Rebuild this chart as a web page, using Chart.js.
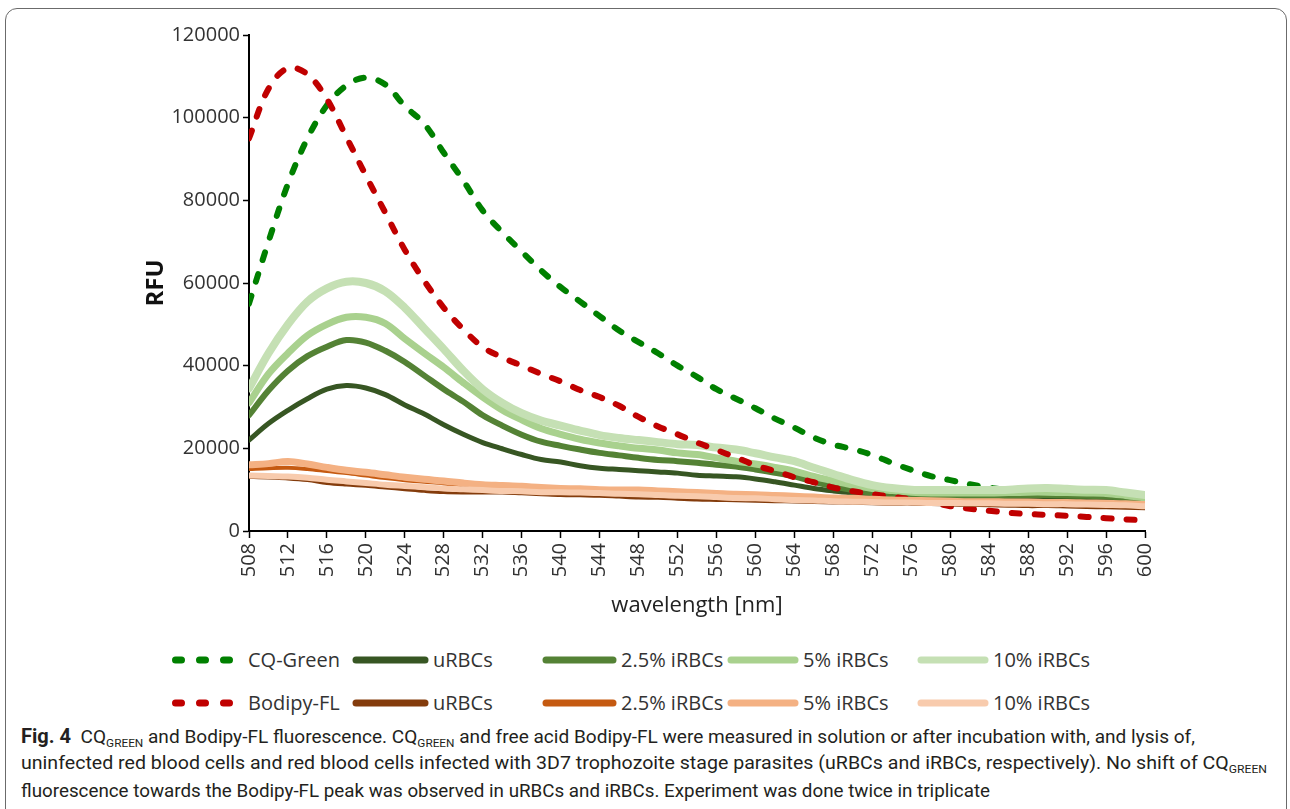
<!DOCTYPE html>
<html>
<head>
<meta charset="utf-8">
<script src="https://cdn.jsdelivr.net/npm/chart.js@4.4.1/dist/chart.umd.min.js"></script>
<style>
  html, body { margin: 0; padding: 0; background: #fff; }
  body { width: 1290px; height: 809px; position: relative; overflow: hidden; font-family: "Open Sans", sans-serif; }
  #frame { position: absolute; left: 5px; top: 8px; width: 1280px; height: 840px; border: 1px solid #6b6b6b; border-radius: 12px; }
  #chart { position: absolute; left: 0; top: 0; }
  .leg { position: absolute; height: 24px; line-height: 24px; font-size: 20px; color: #333; white-space: nowrap; }
  .leg svg { position: absolute; top: 0; }
  .cap { position: absolute; left: 21px; white-space: nowrap; font-family: "Liberation Sans Narrow", "Roboto", sans-serif; font-size: 19px; line-height: 24px; color: #231f20; transform-origin: 0 50%; }
  .cap b { font-size: 20px; }
  .cap sub { font-size: 0.62em; vertical-align: -0.35em; line-height: 0; }
</style>
</head>
<body>
<div id="frame"></div>
<canvas id="chart" width="1290" height="640"></canvas>
<div id="legend"></div>
<div class="cap" id="cap1" data-w="1174"><b>Fig. 4</b>&nbsp; CQ<sub>GREEN</sub> and Bodipy-FL fluorescence. CQ<sub>GREEN</sub> and free acid Bodipy-FL were measured in solution or after incubation with, and lysis of,</div>
<div class="cap" id="cap2" data-w="1246">uninfected red blood cells and red blood cells infected with 3D7 trophozoite stage parasites (uRBCs and iRBCs, respectively). No shift of CQ<sub>GREEN</sub></div>
<div class="cap" id="cap3" data-w="969">fluorescence towards the Bodipy-FL peak was observed in uRBCs and iRBCs. Experiment was done twice in triplicate</div>
<script>
// panjang gelombang (nm)
const wavelength = [508, 510, 512, 514, 516, 518, 520, 522, 524, 526, 528, 530, 532, 534, 536, 538,
    540, 542, 544, 546, 548, 550, 552, 554, 556, 558, 560, 562, 564, 566, 568, 570,
    572, 574, 576, 578, 580, 582, 584, 586, 588, 590, 592, 594, 596, 598, 600];

const cqGreen = [55000, 70000, 84000, 95000, 103000, 107800, 109700, 108000, 102800, 98500, 91500, 84800, 77500, 72300, 67600, 63000,
    59000, 55500, 52000, 48500, 45700, 43000, 40000, 37300, 34300, 32000, 29700, 27200, 25000, 22600, 20900, 19800,
    18400, 16500, 14800, 13300, 12300, 11300, 10500, 9900, 9500, 9100, 8800, 8500, 8200, 7800, 7400];
const greenU = [22000, 26000, 29200, 32000, 34300, 35200, 34600, 33000, 30500, 28300, 25700, 23400, 21400, 19900, 18500, 17300,
    16700, 15800, 15200, 14900, 14600, 14300, 14000, 13500, 13300, 13100, 12600, 11900, 11100, 10300, 9700, 9200,
    8700, 8200, 8000, 8000, 8000, 8100, 8200, 8200, 8300, 8200, 8100, 8000, 7800, 7400, 7000];
const green25 = [28000, 34000, 38800, 42300, 44600, 46200, 45600, 43600, 40900, 37600, 34300, 31300, 28000, 25500, 23300, 21600,
    20600, 19700, 18900, 18300, 17700, 17200, 16900, 16500, 16000, 15600, 14900, 14100, 13200, 11900, 10800, 9900,
    9200, 8700, 8400, 8200, 8200, 8300, 8400, 8600, 8700, 8700, 8600, 8500, 8400, 8000, 7600];
const green5 = [31000, 38000, 43000, 47300, 50000, 51700, 51700, 50200, 46500, 43000, 39600, 35900, 32400, 29300, 26900, 24800,
    23400, 22200, 21300, 20600, 20000, 19600, 18900, 18500, 17700, 16900, 16200, 15400, 14500, 13200, 12100, 11100,
    10300, 9800, 9400, 9200, 9200, 9200, 9200, 9300, 9400, 9400, 9300, 9200, 9100, 8600, 8000];
const green10 = [34500, 43000, 50000, 55500, 58700, 60300, 60000, 58000, 54000, 49000, 44000, 38800, 34300, 31000, 28500, 26700,
    25500, 24300, 23200, 22500, 22000, 21500, 21000, 20800, 20200, 19700, 18800, 17800, 16900, 15300, 13800, 12300,
    11100, 10400, 10000, 9900, 9900, 9900, 9900, 10000, 10300, 10400, 10200, 10000, 9900, 9300, 8700];

const bodipy = [95000, 107000, 112000, 110500, 104500, 95300, 86000, 77000, 68000, 60500, 54000, 48800, 44500, 42000, 40000, 38000,
    36200, 34100, 32400, 30300, 27600, 25300, 23400, 21400, 19600, 17800, 15900, 14500, 13000, 11800, 10500, 9600,
    8900, 8300, 7700, 6900, 6000, 5400, 4900, 4400, 4100, 3900, 3700, 3400, 3100, 2800, 2600];
const brownU = [13000, 12800, 12600, 12200, 11500, 11100, 10800, 10400, 10000, 9600, 9300, 9200, 9200, 9200, 9000, 8800,
    8600, 8500, 8400, 8200, 8000, 7900, 7700, 7500, 7400, 7300, 7200, 7100, 7000, 6900, 6800, 6700,
    6600, 6500, 6500, 6400, 6300, 6200, 6100, 6000, 5900, 5900, 5800, 5700, 5600, 5500, 5400];
const orange25 = [15000, 15200, 15300, 15000, 14500, 14000, 13400, 12800, 12300, 11900, 11500, 11000, 10600, 10300, 10100, 9800,
    9600, 9500, 9400, 9200, 9000, 8800, 8700, 8500, 8300, 8200, 8000, 7900, 7700, 7500, 7300, 7200,
    7100, 7000, 6900, 6900, 6800, 6800, 6700, 6600, 6600, 6500, 6500, 6400, 6300, 6200, 6000];
const orange5 = [16000, 16300, 16800, 16200, 15400, 14700, 14200, 13600, 13000, 12500, 12100, 11600, 11200, 11000, 10800, 10500,
    10300, 10200, 10000, 9900, 9900, 9700, 9500, 9300, 9100, 8900, 8800, 8600, 8400, 8200, 8000, 7900,
    7700, 7500, 7400, 7300, 7200, 7100, 7100, 7000, 7000, 6900, 6900, 6800, 6700, 6600, 6400];
const orange10 = [13400, 13300, 13200, 12900, 12400, 12000, 11600, 11200, 10900, 10600, 10300, 10100, 9900, 9700, 9600, 9400,
    9400, 9300, 9200, 9000, 8900, 8700, 8500, 8400, 8200, 8000, 7900, 7700, 7500, 7400, 7200, 7100,
    7000, 6900, 6900, 6800, 6800, 6700, 6700, 6600, 6600, 6500, 6500, 6400, 6300, 6200, 6000];

const yTicks = [0, 20000, 40000, 60000, 80000, 100000, 120000];

// urutan seperti di legenda (baris 1 hijau, baris 2 merah/oranye)
const series = [
    { label: "CQ-Green", data: cqGreen, color: "#008000", width: 6, dash: true },
    { label: "uRBCs", data: greenU, color: "#375623", width: 5 },
    { label: "2.5% iRBCs", data: green25, color: "#548235", width: 6 },
    { label: "5% iRBCs", data: green5, color: "#a9d18e", width: 7 },
    { label: "10% iRBCs", data: green10, color: "#c5e0b4", width: 8 },
    { label: "Bodipy-FL", data: bodipy, color: "#c00000", width: 6, dash: true },
    { label: "uRBCs", data: brownU, color: "#843c0c", width: 3 },
    { label: "2.5% iRBCs", data: orange25, color: "#c55a11", width: 4 },
    { label: "5% iRBCs", data: orange5, color: "#f4b183", width: 7 },
    { label: "10% iRBCs", data: orange10, color: "#f8cbad", width: 6 },
];

const datasets = series.map((s, i) => ({
    label: s.label,
    data: wavelength.map((w, j) => ({ x: w, y: s.data[j] })),
    borderColor: s.color,
    borderWidth: s.width,
    borderDash: s.dash ? [8, 15] : [],
    borderCapStyle: "round",
    borderJoinStyle: "round",
    pointRadius: 0,
    tension: 0.35,
    fill: false,
    order: 20 - i, // seri belakangan digambar di atas
}));

const tickFont = { family: "'Open Sans'", size: 20 };

new Chart(document.getElementById("chart"), {
    type: "line",
    data: { datasets: datasets },
    options: {
        responsive: false,
        animation: false,
        devicePixelRatio: 1,
        layout: { padding: { left: 140, right: 145, top: 35, bottom: 0 } },
        plugins: { legend: { display: false }, tooltip: { enabled: false } },
        scales: {
            x: {
                type: "linear",
                min: 508,
                max: 600,
                afterFit: (scale) => { scale.height = 109; },
                ticks: {
                    stepSize: 4,
                    autoSkip: false,
                    maxRotation: 90,
                    minRotation: 90,
                    padding: 5,
                    color: "#333",
                    font: tickFont,
                    callback: (v) => String(v),
                },
                grid: { drawOnChartArea: false, tickLength: 7, tickColor: "#000", tickWidth: 1.5 },
                border: { color: "#000", width: 2 },
                title: {
                    display: true,
                    text: "wavelength [nm]",
                    color: "#222",
                    font: { family: "'Open Sans'", size: 22 },
                    padding: { top: 0, bottom: 21 },
                },
            },
            y: {
                min: 0,
                max: 120000,
                afterFit: (scale) => { scale.width = 109; },
                afterBuildTicks: (scale) => { scale.ticks = yTicks.map((v) => ({ value: v })); },
                ticks: {
                    padding: 3,
                    color: "#333",
                    font: tickFont,
                    callback: (v) => String(v),
                },
                grid: { drawOnChartArea: false, tickLength: 6, tickColor: "#000", tickWidth: 1.5 },
                border: { color: "#000", width: 2 },
                title: {
                    display: true,
                    text: "RFU",
                    color: "#111",
                    font: { family: "'Open Sans'", size: 24, weight: "bold" },
                    padding: { top: 2, bottom: 2 },
                },
            },
        },
    },
});

// legenda manual: 2 baris x 5 kolom
const legendCols = [
    { line: 172, text: 248 },
    { line: 356, text: 433 },
    { line: 546, text: 621 },
    { line: 731, text: 803 },
    { line: 921, text: 993 },
];
const legendRows = [648, 691];
const legend = document.getElementById("legend");
series.forEach((s, i) => {
    const col = legendCols[i % 5];
    const top = legendRows[Math.floor(i / 5)];
    let line;
    if (s.dash) {
        // tiga garis putus-putus pendek
        line = `<svg width="80" height="24" style="left:0"><line x1="3.5" y1="12" x2="57.5" y2="12" stroke="${s.color}" stroke-width="7" stroke-linecap="round" stroke-dasharray="6 18"/></svg>`;
    } else {
        const len = col.text - col.line - 8;
        line = `<svg width="${len + 8}" height="24" style="left:-4px"><line x1="4" y1="12" x2="${len + 4}" y2="12" stroke="${s.color}" stroke-width="7" stroke-linecap="round"/></svg>`;
    }
    const el = document.createElement("div");
    el.className = "leg";
    el.style.left = col.line + "px";
    el.style.top = top + "px";
    el.innerHTML = line + `<span style="position:absolute;left:${col.text - col.line}px">${s.label}</span>`;
    legend.appendChild(el);
});

// caption: lebarkan/sempitkan tiap baris supaya sama dengan gambar asli
const capTops = { cap1: 724, cap2: 751, cap3: 779 };
function fitCaption() {
    Object.keys(capTops).forEach((id) => {
        const el = document.getElementById(id);
        el.style.top = capTops[id] + "px";
        el.style.transform = "none";
        const w = el.getBoundingClientRect().width;
        const target = parseFloat(el.dataset.w);
        el.style.transform = `scaleX(${target / w})`;
    });
}
fitCaption();
if (document.fonts && document.fonts.ready) document.fonts.ready.then(fitCaption);
</script>
</body>
</html>
